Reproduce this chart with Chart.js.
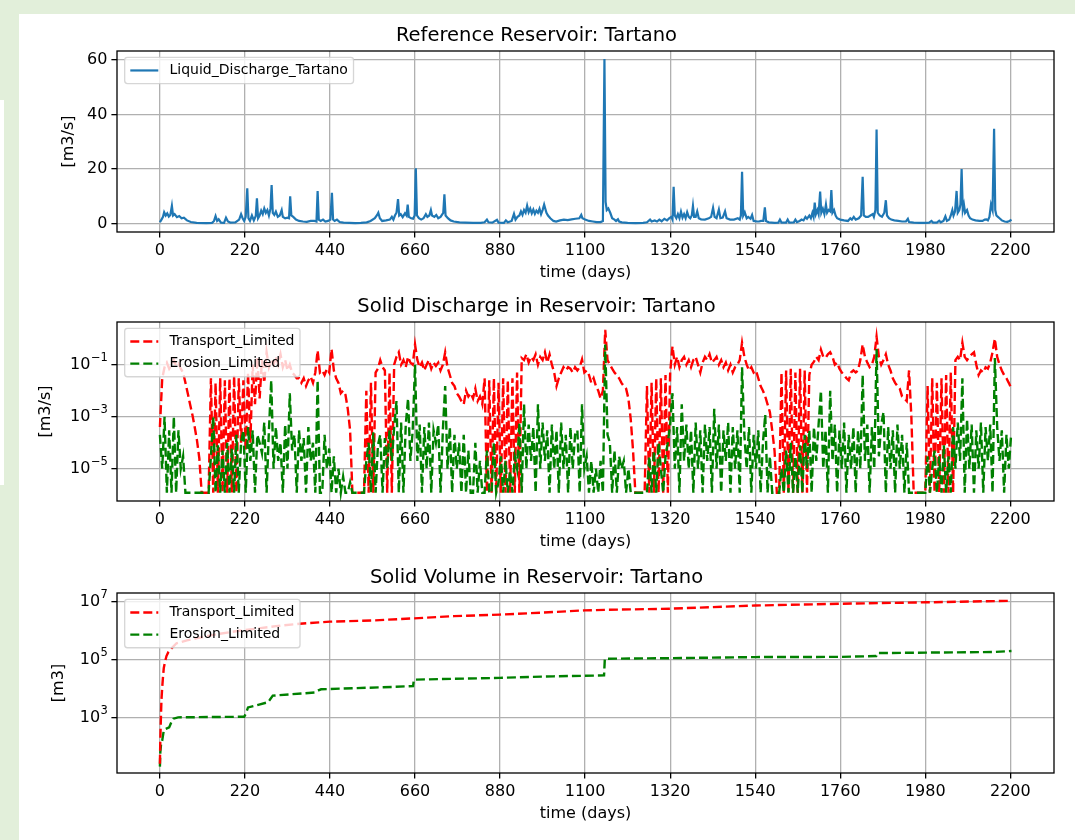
<!DOCTYPE html>
<html>
<head>
<meta charset="utf-8">
<title>Reservoir Tartano</title>
<script src="https://cdn.jsdelivr.net/npm/chart.js"></script>
<style>
  html, body { margin: 0; padding: 0; }
  body { width: 1075px; height: 840px; background: #e2efda; position: relative; overflow: hidden; }
  #panel { position: absolute; left: 19px; top: 14px; right: 0; bottom: 0; background: #fff; }
  #strip { position: absolute; left: 0; top: 100px; width: 4px; height: 385px; background: #fff; }
  canvas { position: absolute; left: 19px; }
</style>
</head>
<body>
<div id="panel"></div>
<div id="strip"></div>
<canvas id="liquidChart" width="1056" height="273" style="top:14px"></canvas>
<canvas id="dischargeChart" width="1056" height="271" style="top:287px"></canvas>
<canvas id="volumeChart" width="1056" height="282" style="top:558px"></canvas>
<script>
// x axis ticks (days)
const dayTicks = [0, 220, 440, 660, 880, 1100, 1320, 1540, 1760, 1980, 2200];

// --- liquid discharge [m3/s]
const liquidTicks = [0, 20, 40, 60];
const liquidTickLabels = ['0', '20', '40', '60'];
const liquidDays = [
  0, 4, 8, 11, 15, 19, 23, 27, 31, 34, 38, 44,
  50, 56, 62, 70, 80, 95, 120, 135, 140, 144, 148, 152,
  158, 166, 171, 176, 182, 195, 205, 210, 214, 218, 222, 226,
  229, 233, 238, 243, 248, 251, 254, 258, 262, 266, 270, 274,
  278, 282, 286, 289, 292, 296, 300, 305, 310, 315, 318, 324,
  330, 334, 337, 340, 345, 352, 360, 370, 380, 390, 400, 405,
  408, 411, 416, 422, 428, 435, 441, 445, 448, 452, 458, 465,
  475, 490, 505, 520, 535, 545, 556, 562, 565, 569, 575, 585,
  595, 600, 604, 608, 612, 616, 619, 623, 628, 634, 638, 641,
  644, 650, 655, 659, 662, 665, 670, 676, 682, 688, 692, 697,
  701, 704, 710, 715, 720, 726, 733, 736, 739, 745, 752, 760,
  775, 790, 810, 830, 840, 846, 850, 860, 872, 876, 890, 895,
  900, 910, 916, 920, 925, 930, 934, 938, 942, 946, 950, 954,
  958, 962, 966, 970, 974, 978, 982, 986, 990, 994, 997, 1000,
  1004, 1010, 1018, 1025, 1035, 1045, 1055, 1065, 1075, 1085, 1090, 1093,
  1100, 1110, 1120, 1130, 1140, 1146, 1150, 1153, 1156, 1160, 1165, 1170,
  1176, 1180, 1185, 1188, 1195, 1210, 1230, 1250, 1260, 1268, 1272, 1280,
  1286, 1292, 1298, 1305, 1312, 1318, 1323, 1326, 1329, 1332, 1336, 1340,
  1344, 1348, 1352, 1356, 1360, 1364, 1368, 1372, 1376, 1379, 1382, 1386,
  1390, 1394, 1400, 1410, 1420, 1426, 1431, 1435, 1440, 1446, 1450, 1456,
  1462, 1466, 1475, 1485, 1495, 1500, 1503, 1506, 1509, 1513, 1518, 1522,
  1528, 1532, 1536, 1545, 1550, 1555, 1561, 1565, 1568, 1575, 1590, 1600,
  1604, 1608, 1620, 1624, 1628, 1640, 1644, 1648, 1655, 1660, 1665, 1670,
  1674, 1680, 1684, 1688, 1691, 1694, 1697, 1701, 1704, 1708, 1711, 1715,
  1719, 1723, 1726, 1730, 1734, 1737, 1740, 1744, 1748, 1752, 1760, 1770,
  1780, 1786, 1790, 1795, 1800, 1808, 1814, 1818, 1821, 1826, 1832, 1838,
  1844, 1847, 1851, 1854, 1857, 1862, 1868, 1874, 1878, 1881, 1886, 1892,
  1900, 1910, 1920, 1930, 1935, 1938, 1950, 1965, 1980, 1990, 1996, 2000,
  2010, 2016, 2020, 2027, 2032, 2036, 2042, 2046, 2050, 2053, 2057, 2061,
  2064, 2068, 2071, 2074, 2077, 2080, 2083, 2088, 2092, 2096, 2102, 2110,
  2120, 2128, 2134, 2138, 2142, 2146, 2150, 2154, 2158, 2161, 2164, 2168,
  2172, 2178, 2185, 2192, 2198, 2203
];
const liquidValues = [
  0.5, 1.5, 2.5, 4.2, 3.0, 3.8, 2.6, 3.2, 6.5, 3.0, 3.5, 2.4,
  2.8, 2.0, 2.2, 1.2, 0.6, 0.3, 0.2, 0.3, 1.0, 2.8, 1.0, 1.6,
  0.4, 0.3, 2.2, 0.8, 0.4, 0.5, 1.5, 3.5, 2.0, 1.0, 2.5, 13.0,
  2.0, 1.0, 3.0, 1.2, 2.8, 9.3, 2.0, 3.0, 4.8, 3.5, 5.6, 4.0,
  5.0, 3.0, 5.5, 14.2, 4.0, 3.2, 4.4, 2.5, 3.0, 5.0, 2.5, 2.0,
  2.2, 2.0, 10.0, 3.0, 2.5, 1.5, 1.0, 0.8, 0.7, 1.0, 1.0, 0.8,
  12.0, 1.5, 1.0, 1.5, 0.8, 1.0, 1.5, 11.3, 1.5, 1.0, 1.5, 0.6,
  0.4, 0.3, 0.2, 0.3, 0.5, 1.0, 2.0, 3.2, 4.0, 2.0, 1.0, 1.2,
  1.5, 2.5, 1.5, 3.0, 4.0, 9.0, 3.0, 3.5, 2.4, 3.8, 3.0, 7.0,
  2.5, 2.0, 1.8, 3.0, 20.3, 3.0, 2.0, 1.5, 2.0, 3.5, 2.5, 3.0,
  5.0, 3.0, 2.5, 3.2, 2.0, 2.5, 4.0, 10.8, 3.0, 2.0, 1.2, 0.8,
  0.5, 0.4, 0.3, 0.3, 0.5, 1.5, 0.5, 0.4, 1.4, 0.4, 0.3, 1.2,
  0.5, 1.0, 3.6, 1.5, 2.5, 3.0, 4.5, 3.2, 5.0, 4.0, 6.6, 4.2,
  5.5, 3.8, 5.2, 3.6, 4.8, 4.0, 5.5, 3.5, 5.0, 7.0, 5.5, 4.0,
  3.0, 2.0, 1.0, 0.8, 1.2, 1.5, 1.3, 1.6, 1.8, 2.0, 3.2, 2.0,
  1.5, 1.0, 0.8, 0.6, 0.6, 1.0, 60.4, 8.0, 5.0, 5.6, 4.0, 2.0,
  1.5, 1.0, 1.6, 0.8, 0.5, 0.3, 0.2, 0.3, 0.5, 1.5, 0.8, 1.2,
  0.8, 1.5, 0.9, 1.8, 1.2, 2.0, 2.5, 1.5, 13.5, 3.0, 2.0, 3.5,
  2.0, 4.4, 2.2, 3.5, 2.0, 4.2, 2.5, 2.0, 3.0, 6.5, 2.5, 2.5,
  4.5, 2.0, 1.6, 1.5, 2.0, 2.5, 5.8, 2.5, 2.0, 5.2, 2.0, 2.2,
  4.5, 2.0, 1.5, 1.5, 2.0, 1.5, 3.0, 19.0, 3.0, 4.2, 2.0, 2.5,
  1.8, 3.2, 1.0, 0.8, 0.8, 1.0, 1.0, 6.0, 1.0, 0.5, 0.3, 0.4,
  1.5, 0.4, 0.4, 1.5, 0.4, 0.5, 1.5, 0.6, 1.0, 1.5, 1.2, 2.5,
  1.8, 3.0, 2.0, 4.0, 2.5, 7.7, 3.5, 5.0, 3.5, 11.8, 4.0, 5.5,
  3.5, 7.0, 4.0, 5.0, 4.5, 12.3, 4.0, 5.0, 3.0, 2.0, 1.5, 1.2,
  1.0, 2.0, 1.5, 2.5, 1.5, 2.0, 3.0, 17.2, 3.0, 2.5, 2.5, 3.0,
  3.5, 2.5, 5.0, 34.5, 4.0, 3.0, 2.5, 4.0, 8.6, 3.0, 2.0, 1.5,
  1.2, 1.0, 0.8, 0.8, 1.8, 0.6, 0.4, 0.3, 0.3, 0.4, 1.0, 0.4,
  0.4, 1.1, 0.5, 1.0, 2.7, 1.0, 1.5, 3.0, 5.0, 3.0, 4.5, 12.0,
  4.0, 5.0, 7.0, 20.0, 5.0, 7.0, 4.0, 5.0, 3.0, 2.0, 1.5, 1.2,
  1.0, 1.0, 1.5, 1.6, 1.2, 2.5, 7.0, 5.0, 34.8, 5.0, 3.0, 2.5,
  2.0, 1.2, 0.8, 0.7, 1.0, 1.5
];

// --- solid discharge [m3/s], sampled every 6 days
const dischargeTicks = [1e-5, 1e-3, 1e-1];
const dischargeTickExponents = ['−5', '−3', '−1'];
const dischargeDays = [
  0, 6, 12, 18, 24, 30, 36, 42, 48, 54,
  60, 66, 72, 78, 84, 90, 96, 102, 108, 114,
  120, 126, 132, 138, 144, 150, 156, 162, 168, 174,
  180, 186, 192, 198, 204, 210, 216, 222, 228, 234,
  240, 246, 252, 258, 264, 270, 276, 282, 288, 294,
  300, 306, 312, 318, 324, 330, 336, 342, 348, 354,
  360, 366, 372, 378, 384, 390, 396, 402, 408, 414,
  420, 426, 432, 438, 444, 450, 456, 462, 468, 474,
  480, 486, 492, 498, 504, 510, 516, 522, 528, 534,
  540, 546, 552, 558, 564, 570, 576, 582, 588, 594,
  600, 606, 612, 618, 624, 630, 636, 642, 648, 654,
  660, 666, 672, 678, 684, 690, 696, 702, 708, 714,
  720, 726, 732, 738, 744, 750, 756, 762, 768, 774,
  780, 786, 792, 798, 804, 810, 816, 822, 828, 834,
  840, 846, 852, 858, 864, 870, 876, 882, 888, 894,
  900, 906, 912, 918, 924, 930, 936, 942, 948, 954,
  960, 966, 972, 978, 984, 990, 996, 1002, 1008, 1014,
  1020, 1026, 1032, 1038, 1044, 1050, 1056, 1062, 1068, 1074,
  1080, 1086, 1092, 1098, 1104, 1110, 1116, 1122, 1128, 1134,
  1140, 1146, 1152, 1158, 1164, 1170, 1176, 1182, 1188, 1194,
  1200, 1206, 1212, 1218, 1224, 1230, 1236, 1242, 1248, 1254,
  1260, 1266, 1272, 1278, 1284, 1290, 1296, 1302, 1308, 1314,
  1320, 1326, 1332, 1338, 1344, 1350, 1356, 1362, 1368, 1374,
  1380, 1386, 1392, 1398, 1404, 1410, 1416, 1422, 1428, 1434,
  1440, 1446, 1452, 1458, 1464, 1470, 1476, 1482, 1488, 1494,
  1500, 1506, 1512, 1518, 1524, 1530, 1536, 1542, 1548, 1554,
  1560, 1566, 1572, 1578, 1584, 1590, 1596, 1602, 1608, 1614,
  1620, 1626, 1632, 1638, 1644, 1650, 1656, 1662, 1668, 1674,
  1680, 1686, 1692, 1698, 1704, 1710, 1716, 1722, 1728, 1734,
  1740, 1746, 1752, 1758, 1764, 1770, 1776, 1782, 1788, 1794,
  1800, 1806, 1812, 1818, 1824, 1830, 1836, 1842, 1848, 1854,
  1860, 1866, 1872, 1878, 1884, 1890, 1896, 1902, 1908, 1914,
  1920, 1926, 1932, 1938, 1944, 1950, 1956, 1962, 1968, 1974,
  1980, 1986, 1992, 1998, 2004, 2010, 2016, 2022, 2028, 2034,
  2040, 2046, 2052, 2058, 2064, 2070, 2076, 2082, 2088, 2094,
  2100, 2106, 2112, 2118, 2124, 2130, 2136, 2142, 2148, 2154,
  2160, 2166, 2172, 2178, 2184, 2190, 2196, 2202
];
const transportDischarge = [
  4e-4, 3e-2, 8e-2, 1.2e-1, 7e-2, 1e-1, 1.5e-1, 9e-2, 1.1e-1, 7e-2,
  5e-2, 2e-2, 8e-3, 3e-3, 1.2e-3, 4e-4, 1.2e-4, 2.5e-5, 1.2e-6, 1.2e-6,
  1.2e-6, 1.2e-6, 3e-2, 1.2e-6, 2e-2, 1.2e-6, 3e-2, 1.2e-6, 2.5e-2, 1.2e-6,
  3e-2, 1.2e-6, 4e-2, 1.2e-6, 3e-2, 1e-4, 2.5e-2, 5e-5, 5e-2, 1e-4,
  1e-1, 3e-3, 2e-1, 5e-3, 1.5e-1, 2e-2, 3e-1, 8e-2, 1.5e-1, 1e-1,
  2e-1, 1e-1, 2.5e-1, 8e-2, 1.5e-1, 6e-2, 1e-1, 5e-2, 4e-2, 3e-2,
  3e-2, 2e-2, 3e-2, 1.5e-2, 2.5e-2, 3.5e-2, 2e-2, 5e-2, 3.5e-1, 5e-2,
  6e-2, 4e-2, 7e-2, 5e-2, 4e-1, 6e-2, 3e-2, 2e-2, 8e-3, 1e-2,
  7e-3, 2e-3, 3e-4, 1.2e-6, 1.2e-6, 1.2e-6, 1.2e-6, 1.2e-6, 1.2e-6, 1e-2,
  1.2e-6, 2e-2, 1.2e-6, 5e-2, 7e-2, 1.5e-1, 8e-2, 6e-2, 1.2e-6, 5e-2,
  1.2e-6, 1e-1, 2e-1, 3e-1, 1e-1, 1.5e-1, 8e-2, 2e-1, 1.2e-1, 1e-1,
  6e-1, 1.5e-1, 8e-2, 1.2e-1, 6e-2, 1e-1, 1.5e-1, 7e-2, 1.2e-1, 9e-2,
  1.2e-1, 6e-2, 1e-1, 3e-1, 8e-2, 4e-2, 2e-2, 1.5e-2, 8e-3, 6e-3,
  4e-3, 3e-3, 1e-2, 6e-3, 8e-3, 5e-3, 1.2e-2, 4e-3, 6e-3, 3e-3,
  3e-2, 1.2e-6, 2.5e-2, 1.2e-6, 3e-2, 1.2e-6, 2e-2, 1.2e-6, 3e-2, 1.2e-6,
  2.5e-2, 1.2e-6, 3e-2, 1.2e-6, 5e-2, 1.2e-6, 1.8e-1, 1.5e-1, 2.5e-1, 1.2e-1,
  2e-1, 1.5e-1, 2.5e-1, 1e-1, 2e-1, 1.5e-1, 3e-1, 1.2e-1, 2.5e-1, 1e-1,
  5e-2, 1.5e-2, 3e-2, 5e-2, 8e-2, 6e-2, 8e-2, 7e-2, 5e-2, 8e-2,
  6e-2, 8e-2, 1.6e-1, 5e-2, 6e-2, 4e-2, 2e-2, 3e-2, 1.5e-2, 1e-2,
  5e-3, 1e-2, 2.2, 1.5e-1, 1e-1, 7e-2, 5e-2, 4e-2, 3e-2, 2e-2,
  1.5e-2, 1.2e-2, 5e-3, 8e-4, 5e-5, 1.2e-6, 1.2e-6, 1.2e-6, 1.2e-6, 1.2e-6,
  1.5e-2, 1.2e-6, 2e-2, 1.2e-6, 3e-2, 1.2e-6, 3e-2, 1.2e-6, 4e-2, 1.2e-6,
  5e-2, 5e-1, 1e-1, 2e-1, 8e-2, 1.5e-1, 2e-1, 1e-1, 1.5e-1, 8e-2,
  1.5e-1, 2e-1, 1e-1, 5e-2, 1.2e-1, 2e-1, 1.5e-1, 2.5e-1, 1.2e-1, 1.5e-1,
  2e-1, 1e-1, 1.5e-1, 8e-2, 1.2e-1, 6e-2, 1e-1, 5e-2, 8e-2, 1e-1,
  1.5e-1, 7e-1, 2e-1, 1e-1, 6e-2, 8e-2, 5e-2, 6e-2, 3e-2, 1.5e-2,
  1e-2, 6e-3, 3e-3, 1.5e-3, 3e-4, 5e-5, 1.2e-6, 1.2e-6, 5e-2, 1.2e-6,
  6e-2, 1.2e-6, 7e-2, 1.2e-6, 5e-2, 1.2e-6, 7e-2, 1.2e-6, 6e-2, 1.2e-6,
  4e-2, 1e-1, 1.3e-1, 2e-1, 1.5e-1, 3.8e-1, 2e-1, 1.8e-1, 2.5e-1, 3e-1,
  2e-1, 1e-1, 1.2e-1, 7e-2, 5e-2, 4e-2, 3e-2, 2.5e-2, 5e-2, 6e-2,
  5e-2, 6e-2, 1.5e-1, 6e-1, 2e-1, 1.2e-1, 8e-2, 1e-1, 2e-1, 1.2,
  2e-1, 1e-1, 1.5e-1, 2.5e-1, 1e-1, 6e-2, 3e-2, 2e-2, 1.5e-2, 1.2e-2,
  6e-3, 5e-3, 4e-3, 6e-2, 1e-3, 1.2e-6, 1.2e-6, 1.2e-6, 1.2e-6, 1.2e-6,
  1.2e-6, 1.5e-2, 1.2e-6, 3e-2, 1.2e-6, 2e-2, 1.2e-6, 3e-2, 1.2e-6, 4e-2,
  1.2e-6, 5e-2, 1.2e-6, 1.5e-1, 2e-1, 1.5e-1, 7e-1, 2e-1, 1.5e-1, 2e-1,
  2.5e-1, 3e-1, 1e-1, 4e-2, 6e-2, 5e-2, 8e-2, 7e-2, 1.2e-1, 3e-1,
  1.0, 2e-1, 1e-1, 6e-2, 4e-2, 3e-2, 2e-2, 1.3e-2
];
const erosionDischarge = [
  2e-4, 1e-5, 1e-3, 1.2e-6, 3e-4, 1.2e-6, 1e-3, 1.2e-6, 3e-4, 1e-5,
  3e-5, 1.2e-6, 1.2e-6, 1.2e-6, 1.2e-6, 1.2e-6, 1.2e-6, 1.2e-6, 1.2e-6, 1.2e-6,
  1.2e-6, 1.2e-6, 3e-5, 1e-3, 1.2e-6, 8e-5, 1.2e-6, 5e-5, 1.2e-6, 1e-4,
  1.2e-6, 6e-5, 1.2e-6, 2e-4, 1.2e-6, 1e-4, 3e-4, 1.2e-6, 4e-4, 2e-5,
  3e-4, 1.2e-6, 2e-4, 1e-4, 4e-5, 6e-4, 1.2e-6, 3e-4, 2.5e-2, 1e-5,
  4e-4, 2e-5, 1e-4, 1.2e-6, 5e-4, 1e-5, 8e-3, 5e-5, 2e-4, 1.2e-6,
  3e-4, 2e-5, 1.5e-4, 1.2e-6, 4e-4, 2e-5, 1e-4, 1.2e-6, 2.5e-2, 1.2e-6,
  1.2e-6, 2e-4, 1e-5, 6e-5, 1.2e-6, 3e-5, 1.2e-6, 1e-5, 1.2e-6, 5e-6,
  1.2e-6, 1.2e-6, 3e-6, 1.2e-6, 1.2e-6, 1.2e-6, 1.2e-6, 1.2e-6, 1.2e-6, 2e-5,
  1e-4, 1.2e-6, 2.5e-4, 1.2e-6, 8e-5, 2e-4, 1.2e-6, 1.5e-4, 1e-5, 3e-4,
  2e-5, 4e-4, 4e-3, 1.2e-6, 6e-4, 1.2e-6, 5e-4, 5e-3, 2e-5, 3e-4,
  1e-1, 2e-5, 5e-4, 1.2e-6, 4e-4, 1e-5, 6e-4, 1.2e-6, 3e-4, 1e-4,
  5e-4, 1.2e-6, 3e-4, 1.5e-2, 1e-5, 4e-4, 1.2e-6, 2e-4, 1e-5, 1e-4,
  1.2e-6, 2e-4, 1.2e-6, 5e-5, 1.2e-6, 1.2e-6, 1e-4, 1.2e-6, 2e-5, 1.2e-6,
  1.2e-6, 5e-5, 1.2e-6, 1.2e-6, 1e-4, 1.2e-6, 3e-6, 3e-5, 1.2e-6, 2e-5,
  1.2e-6, 8e-6, 1.2e-6, 3e-5, 1e-5, 6e-4, 1.2e-6, 3e-3, 1e-5, 5e-4,
  2e-5, 4e-4, 1.2e-6, 3e-3, 1e-5, 6e-4, 2e-5, 3e-4, 1.2e-6, 5e-4,
  1e-5, 3e-4, 1.2e-6, 6e-4, 1e-5, 2e-4, 1.2e-6, 4e-4, 1e-5, 2e-4,
  3e-4, 1.2e-6, 3e-3, 1e-5, 3e-5, 1.2e-6, 2e-5, 1.2e-6, 1e-5, 1.2e-6,
  2e-5, 1.2e-6, 6e-1, 2e-4, 1e-4, 1.2e-6, 5e-5, 1.2e-6, 3e-5, 1e-5,
  2e-5, 1.2e-6, 1e-5, 1.2e-6, 1.2e-6, 1.2e-6, 1.2e-6, 1.2e-6, 1.2e-6, 1.2e-6,
  1.2e-6, 3e-5, 1.2e-6, 5e-5, 1.2e-6, 1e-4, 1e-5, 1.2e-6, 3e-5, 1e-4,
  5e-4, 8e-3, 1e-5, 4e-4, 1.2e-6, 3e-3, 2e-5, 5e-4, 1e-5, 3e-4,
  1.2e-6, 6e-4, 1e-5, 3e-4, 1.2e-6, 5e-4, 2e-5, 4e-4, 1.2e-6, 2e-3,
  1e-5, 5e-4, 1.2e-6, 3e-4, 2e-5, 6e-4, 1.2e-6, 4e-4, 1e-5, 3e-4,
  1.2e-6, 8e-2, 2e-4, 1e-5, 4e-4, 1.2e-6, 2e-4, 1e-5, 3e-4, 1.2e-6,
  1e-4, 1.2e-3, 1.2e-6, 3e-5, 1.2e-6, 1.2e-6, 1.2e-6, 1.2e-6, 1e-5, 1.2e-6,
  5e-5, 1.2e-6, 1e-4, 1.2e-6, 3e-5, 1.2e-6, 8e-5, 1.2e-6, 2e-4, 1e-5,
  3e-4, 1.2e-6, 4e-4, 2e-5, 5e-4, 1e-2, 1e-5, 3e-4, 1.2e-6, 1e-2,
  2e-5, 5e-4, 1.2e-6, 3e-4, 1e-5, 6e-4, 1.2e-6, 2e-4, 1e-5, 4e-4,
  1.2e-6, 3e-4, 1e-5, 4e-2, 2e-5, 5e-4, 1.2e-6, 4e-4, 1e-5, 4e-1,
  3e-5, 5e-4, 1.5e-3, 1.2e-6, 4e-4, 1e-5, 3e-4, 1.2e-6, 5e-4, 1e-5,
  2e-4, 1.2e-6, 1e-4, 1.2e-6, 1.2e-6, 1.2e-6, 1.2e-6, 1.2e-6, 1.2e-6, 1.2e-6,
  1.2e-6, 3e-5, 1.2e-6, 1e-5, 5e-5, 1.2e-6, 3e-5, 1.2e-6, 8e-5, 1.2e-6,
  3e-5, 1.2e-6, 4e-4, 1e-5, 6e-4, 2e-5, 3e-2, 1.2e-6, 8e-4, 1e-5,
  5e-4, 1.2e-6, 3e-4, 1e-5, 6e-4, 1.2e-6, 4e-4, 2e-5, 5e-4, 1.2e-6,
  1.8e-1, 4e-4, 2e-5, 3e-4, 1.2e-6, 2e-4, 1e-5, 2e-4
];

// --- solid volume [m3]
const volumeTicks = [1e3, 1e5, 1e7];
const volumeTickExponents = ['3', '5', '7'];
const transportVolumeDays = [0, 1, 2, 3, 4, 6, 8, 10, 13, 17, 22, 30, 43, 70, 100, 150, 200, 250, 300, 362,
  440, 550, 657, 760, 879, 990, 1098, 1150, 1319, 1540, 1761, 1982, 2203];
const transportVolume = [25, 150, 500, 1500, 4000, 1.1e4, 2.5e4, 5e4, 8e4, 1.3e5, 1.8e5, 2.4e5, 3.6e5, 4.5e5, 5.5e5, 7.5e5, 9.5e5, 1.15e6, 1.4e6, 1.7e6,
  2.0e6, 2.2e6, 2.6e6, 3.1e6, 3.5e6, 4.1e6, 4.9e6, 5.1e6, 5.6e6, 7.2e6, 8.3e6, 9.3e6, 1.05e7];
const erosionVolumeDays = [0, 1, 3, 6, 10, 15, 24, 30, 35, 47, 218, 222, 228, 279, 284, 292, 400, 410, 417, 602,
  655, 657, 879, 1018, 1149, 1151, 1319, 1540, 1761, 1853, 1856, 2158, 2203];
const erosionVolume = [20, 60, 120, 160, 350, 400, 450, 700, 900, 1000, 1050, 1300, 2200, 3300, 4000, 5600, 7200, 8500, 9300, 11200,
  12000, 20000, 23000, 26000, 28000, 105000, 110000, 120000, 122000, 130000, 165000, 180000, 195000];

Chart.defaults.font.family = '"DejaVu Sans"';
Chart.defaults.color = '#000';

function points(xs, ys) {
  return xs.map((x, i) => ({ x: x, y: ys[i] }));
}

// axes frame + matplotlib-like legend in the upper left corner
const frameAndLegend = {
  id: 'frameAndLegend',
  afterDatasetsDraw(chart) {
    const ctx = chart.ctx, a = chart.chartArea;
    ctx.save();
    ctx.strokeStyle = '#000';
    ctx.lineWidth = 1.3;
    ctx.strokeRect(a.left, a.top, a.right - a.left, a.bottom - a.top);

    const fs = 14;
    const sets = chart.data.datasets;
    ctx.font = fs + 'px "DejaVu Sans"';
    const pad = 0.4 * fs, handle = 2 * fs, gap = 0.8 * fs, rowH = 1.08 * fs, space = 0.5 * fs;
    const textW = Math.max(...sets.map(s => ctx.measureText(s.label).width));
    const x0 = a.left + 0.55 * fs, y0 = a.top + 0.45 * fs;
    const w = 2 * pad + handle + gap + textW;
    const h = 2 * pad + sets.length * rowH + (sets.length - 1) * space;
    ctx.beginPath();
    if (ctx.roundRect) ctx.roundRect(x0, y0, w, h, 0.2 * fs); else ctx.rect(x0, y0, w, h);
    ctx.fillStyle = 'rgba(255,255,255,0.8)';
    ctx.fill();
    ctx.strokeStyle = 'rgba(204,204,204,0.8)';
    ctx.lineWidth = 1.3;
    ctx.stroke();
    sets.forEach((s, i) => {
      const cy = y0 + pad + rowH / 2 + i * (rowH + space);
      ctx.beginPath();
      ctx.setLineDash(s.borderDash || []);
      ctx.strokeStyle = s.borderColor;
      ctx.lineWidth = s.borderWidth;
      ctx.moveTo(x0 + pad, cy);
      ctx.lineTo(x0 + pad + handle, cy);
      ctx.stroke();
      ctx.setLineDash([]);
      ctx.fillStyle = '#000';
      ctx.textAlign = 'left';
      ctx.textBaseline = 'middle';
      ctx.fillText(s.label, x0 + pad + handle + gap, cy);
    });
    ctx.restore();
  }
};

// "10" with a raised exponent for the log axes
const powerLabels = {
  id: 'powerLabels',
  afterDraw(chart, args, opts) {
    if (!opts || !opts.values) return;
    const ctx = chart.ctx, y = chart.scales.y;
    const right = chart.chartArea.left - 5.6 - 4;
    ctx.save();
    ctx.fillStyle = '#000';
    ctx.textBaseline = 'middle';
    ctx.textAlign = 'left';
    opts.values.forEach((v, i) => {
      const py = y.getPixelForValue(v);
      ctx.font = '11.5px "DejaVu Sans"';
      const ew = ctx.measureText(opts.exponents[i]).width;
      ctx.font = '16px "DejaVu Sans"';
      const bw = ctx.measureText('10').width;
      const x = right - ew - bw;
      ctx.fillText('10', x, py);
      ctx.font = '11.5px "DejaVu Sans"';
      ctx.fillText(opts.exponents[i], x + bw + 0.5, py - 6.5);
    });
    ctx.restore();
  }
};

function xAxis(height, titleBottom) {
  return {
    type: 'linear',
    min: -111,
    max: 2313,
    afterBuildTicks: axis => { axis.ticks = dayTicks.map(v => ({ value: v })); },
    afterFit: axis => { axis.height = height; },
    ticks: { autoSkip: false, maxRotation: 0, padding: 3.7, font: { size: 16 }, color: '#000',
      callback: v => String(v) },
    grid: { color: '#b0b0b0', lineWidth: 1.3, tickLength: 5.6, tickColor: '#000', tickWidth: 1.3 },
    border: { display: false },
    title: { display: true, text: 'time (days)', color: '#000', font: { size: 16 },
      padding: { top: 0, bottom: titleBottom } }
  };
}

function yAxis(type, min, max, tickValues, tickLabels, label, titleLeft) {
  return {
    type: type,
    min: min,
    max: max,
    afterBuildTicks: axis => { axis.ticks = tickValues.map(v => ({ value: v })); },
    afterFit: axis => { axis.width = 98; },
    ticks: { display: tickLabels !== null, autoSkip: false, padding: 4, font: { size: 16 }, color: '#000',
      callback: (v, i) => (tickLabels ? tickLabels[i] : '') },
    grid: { color: '#b0b0b0', lineWidth: 1.3, tickLength: 5.6, tickColor: '#000', tickWidth: 1.3 },
    border: { display: false },
    title: { display: true, text: label, color: '#000', font: { size: 16 },
      padding: { top: titleLeft, bottom: 0 } }
  };
}

function baseOptions(title, titleTop, titleBottom, x, y, power) {
  return {
    responsive: false,
    animation: false,
    events: [],
    layout: { padding: { left: 0, right: 21, top: 0, bottom: 0 } },
    elements: { point: { radius: 0 }, line: { tension: 0 } },
    plugins: {
      legend: { display: false },
      tooltip: { enabled: false },
      title: { display: true, text: title, color: '#000', font: { size: 19.5, weight: 'normal' },
        padding: { top: titleTop, bottom: titleBottom } },
      powerLabels: power
    },
    scales: { x: x, y: y }
  };
}

new Chart(document.getElementById('liquidChart').getContext('2d'), {
  type: 'line',
  data: {
    datasets: [{
      label: 'Liquid_Discharge_Tartano',
      data: points(liquidDays, liquidValues),
      borderColor: '#1f77b4',
      borderWidth: 2.2,
      fill: false
    }]
  },
  options: baseOptions('Reference Reservoir: Tartano', 10.6, 3,
    xAxis(55, 4.4),
    yAxis('linear', -3.05, 63.3, liquidTicks, liquidTickLabels, '[m3/s]', 40.4),
    {}),
  plugins: [frameAndLegend, powerLabels]
});

new Chart(document.getElementById('dischargeChart').getContext('2d'), {
  type: 'line',
  data: {
    datasets: [{
      label: 'Transport_Limited',
      data: points(dischargeDays, transportDischarge),
      borderColor: '#ff0000',
      borderDash: [9, 4],
      borderWidth: 2.4,
      fill: false,
      order: 2
    }, {
      label: 'Erosion_Limited',
      data: points(dischargeDays, erosionDischarge),
      borderColor: '#008000',
      borderDash: [9, 4],
      borderWidth: 2.4,
      fill: false,
      order: 1
    }]
  },
  options: baseOptions('Solid Discharge in Reservoir: Tartano', 8.6, 3,
    xAxis(57, 6.4),
    yAxis('logarithmic', Math.pow(10, -6.24), Math.pow(10, 0.64), dischargeTicks, null, '[m3/s]', 17.4),
    { values: dischargeTicks, exponents: dischargeTickExponents }),
  plugins: [frameAndLegend, powerLabels]
});

new Chart(document.getElementById('volumeChart').getContext('2d'), {
  type: 'line',
  data: {
    datasets: [{
      label: 'Transport_Limited',
      data: points(transportVolumeDays, transportVolume),
      borderColor: '#ff0000',
      borderDash: [9, 4],
      borderWidth: 2.4,
      fill: false
    }, {
      label: 'Erosion_Limited',
      data: points(erosionVolumeDays, erosionVolume),
      borderColor: '#008000',
      borderDash: [9, 4],
      borderWidth: 2.4,
      fill: false
    }]
  },
  options: baseOptions('Solid Volume in Reservoir: Tartano', 8.3, 3.3,
    xAxis(67, 16.4),
    yAxis('logarithmic', Math.pow(10, 1.08), Math.pow(10, 7.29), volumeTicks, null, '[m3]', 30.4),
    { values: volumeTicks, exponents: volumeTickExponents }),
  plugins: [frameAndLegend, powerLabels]
});
</script>
</body>
</html>
